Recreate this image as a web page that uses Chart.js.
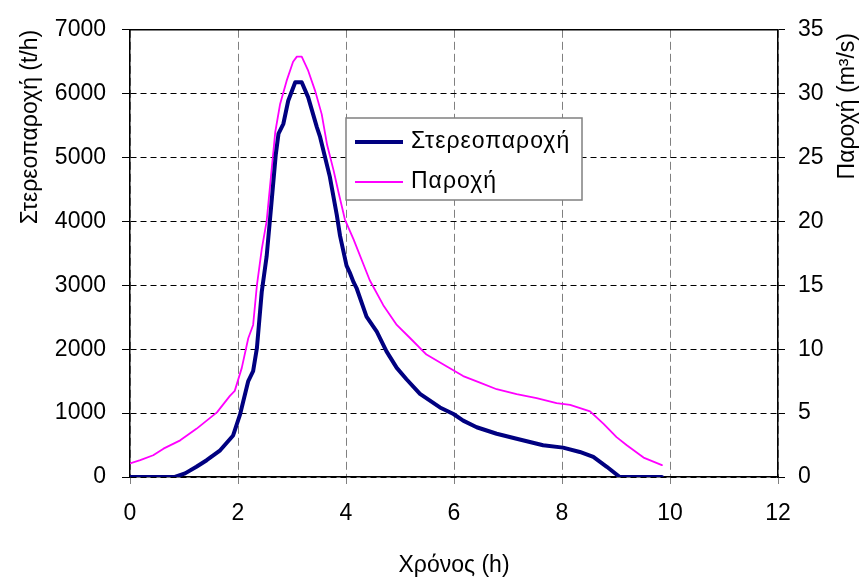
<!DOCTYPE html>
<html>
<head>
<meta charset="utf-8">
<script src="https://cdn.jsdelivr.net/npm/chart.js@4.4.0/dist/chart.umd.min.js"></script>
<style>
    body { margin: 0; background: #fff; }
    #wrap { width: 865px; height: 579px; }
</style>
</head>
<body>
<div id="wrap"><canvas id="canvasGrafico" width="865" height="579"></canvas></div>
<script>
// Στερεοπαροχή (t/h) - αριστερός άξονας
const sedTime = [0, 0.83, 1.02, 1.23, 1.42, 1.67, 1.91, 2.04, 2.19, 2.28, 2.35, 2.44, 2.53, 2.62, 2.70, 2.75, 2.84, 2.93, 3.06, 3.18, 3.30, 3.46, 3.52, 3.70, 3.83, 3.89, 4.01, 4.07, 4.14, 4.20, 4.38, 4.57, 4.75, 4.94, 5.12, 5.37, 5.74, 5.99, 6.17, 6.42, 6.79, 7.16, 7.65, 8.02, 8.33, 8.58, 8.83, 9.07, 9.85];
const sedRate = [0, 0, 57, 160, 263, 418, 650, 986, 1502, 1657, 2018, 2900, 3450, 4290, 5050, 5374, 5529, 5890, 6180, 6180, 5942, 5477, 5323, 4702, 4100, 3774, 3309, 3200, 3050, 2947, 2510, 2277, 1967, 1708, 1530, 1300, 1089, 986, 883, 779, 677, 599, 496, 460, 392, 314, 160, 0, 0];

// Παροχή (m3/s) - δεξιός άξονας
const flowTime = [0, 0.19, 0.43, 0.62, 0.93, 1.23, 1.61, 1.85, 1.94, 2.07, 2.19, 2.28, 2.35, 2.44, 2.53, 2.69, 2.78, 2.90, 3.02, 3.09, 3.18, 3.30, 3.43, 3.55, 3.65, 3.77, 3.86, 3.98, 4.14, 4.44, 4.69, 4.94, 5.19, 5.49, 5.86, 6.17, 6.48, 6.79, 7.16, 7.53, 7.90, 8.15, 8.52, 8.77, 9.01, 9.20, 9.51, 9.85];
const flowRate = [1.06, 1.32, 1.70, 2.22, 2.87, 3.77, 5.06, 6.35, 6.74, 8.54, 10.86, 11.9, 15.0, 17.83, 20.0, 27.0, 29.2, 31.0, 32.5, 32.9, 32.9, 31.8, 30.2, 28.4, 26.0, 24.0, 22.3, 20.15, 18.6, 15.4, 13.45, 11.9, 10.86, 9.58, 8.67, 7.9, 7.38, 6.87, 6.48, 6.17, 5.78, 5.65, 5.13, 4.16, 3.12, 2.48, 1.52, 0.93];

const xTicks = [0, 2, 4, 6, 8, 10, 12];
const yTicks = [0, 1000, 2000, 3000, 4000, 5000, 6000, 7000];
const y2Ticks = [0, 5, 10, 15, 20, 25, 30, 35];

const seriesNames = ["Στερεοπαροχή", "Παροχή"];
const xTitle = "Χρόνος (h)";
const yTitle = "Στερεοπαροχή (t/h)";
const y2Title = "Παροχή (m³/s)";

const FONT = '"Liberation Sans", Arial, sans-serif';

function toPoints(xs, ys) {
    return xs.map((x, i) => ({ x: x, y: ys[i] }));
}

function fixTicks(list) {
    return function (scale) {
        scale.ticks = list.map(v => ({ value: v }));
    };
}

function plain(v) {
    return String(v);
}

// bordo superiore, titolo asse destro e legenda dentro il grafico
const extraPlugin = {
    id: "extra",
    afterDraw(chart) {
        const ctx = chart.ctx;
        const a = chart.chartArea;
        ctx.save();
        ctx.strokeStyle = "#000";
        ctx.lineWidth = 1.5;
        ctx.beginPath();
        ctx.moveTo(a.left, a.top);
        ctx.lineTo(a.right, a.top);
        ctx.stroke();

        ctx.font = "23px " + FONT;
        ctx.fillStyle = "#000";
        ctx.save();
        ctx.translate(848, 33);
        ctx.rotate(-Math.PI / 2);
        ctx.textAlign = "right";
        ctx.textBaseline = "middle";
        ctx.fillText(y2Title, 0, 0);
        ctx.restore();

        // legenda
        ctx.fillStyle = "#fff";
        ctx.fillRect(346, 118, 236, 82);
        ctx.strokeStyle = "#808080";
        ctx.lineWidth = 1.5;
        ctx.strokeRect(346, 118, 236, 82);
        chart.data.datasets.forEach((ds, i) => {
            const y = 142 + i * 40;
            ctx.strokeStyle = ds.borderColor;
            ctx.lineWidth = ds.borderWidth;
            ctx.beginPath();
            ctx.moveTo(355, y);
            ctx.lineTo(403, y);
            ctx.stroke();
            ctx.fillStyle = "#000";
            ctx.textAlign = "left";
            ctx.textBaseline = "middle";
            ctx.letterSpacing = "1px";
            ctx.fillText(ds.label, 411, y);
        });
        ctx.restore();
    }
};

const chart = new Chart(document.getElementById("canvasGrafico"), {
    type: "line",
    data: {
        datasets: [{
            label: seriesNames[0],
            data: toPoints(sedTime, sedRate),
            borderColor: "#000080",
            borderWidth: 4,
            yAxisID: "y"
        }, {
            label: seriesNames[1],
            data: toPoints(flowTime, flowRate),
            borderColor: "#FF00FF",
            borderWidth: 1.8,
            yAxisID: "y2"
        }]
    },
    options: {
        responsive: false,
        animation: false,
        layout: { padding: { top: 25, left: 0, right: 0, bottom: 0 } },
        elements: {
            point: { radius: 0 },
            line: { tension: 0, borderJoinStyle: "round", borderCapStyle: "round" }
        },
        plugins: {
            legend: { display: false },
            tooltip: { enabled: false }
        },
        scales: {
            x: {
                type: "linear",
                min: 0,
                max: 12,
                afterBuildTicks: fixTicks(xTicks),
                afterFit: s => { s.height = 102; },
                grid: {
                    color: "#808080",
                    tickBorderDash: [],
                    tickColor: "#808080",
                    tickLength: 7
                },
                border: { display: true, color: "#000", width: 1.5, dash: [8, 4] },
                ticks: {
                    color: "#000",
                    padding: 16,
                    maxRotation: 0,
                    callback: plain,
                    font: { family: FONT, size: 23 }
                },
                title: {
                    display: true,
                    text: xTitle,
                    color: "#000",
                    padding: { top: 0, bottom: 0 },
                    font: { family: FONT, size: 23 }
                }
            },
            y: {
                position: "left",
                min: 0,
                max: 7000,
                afterBuildTicks: fixTicks(yTicks),
                afterFit: s => { s.width = 130; },
                grid: {
                    color: "#000",
                    tickBorderDash: [],
                    tickColor: "#000",
                    tickLength: 8
                },
                border: { display: true, color: "#000", width: 1.5, dash: [6, 4] },
                ticks: {
                    color: "#000",
                    padding: 16,
                    callback: plain,
                    font: { family: FONT, size: 23 }
                },
                title: {
                    display: true,
                    text: yTitle,
                    align: "end",
                    color: "#000",
                    padding: { top: 17, bottom: 0 },
                    font: { family: FONT, size: 23 }
                }
            },
            y2: {
                position: "right",
                min: 0,
                max: 35,
                afterBuildTicks: fixTicks(y2Ticks),
                afterFit: s => { s.width = 87; },
                grid: {
                    drawOnChartArea: false,
                    tickBorderDash: [],
                    tickColor: "#000",
                    tickLength: 7
                },
                border: { display: true, color: "#000", width: 1.5 },
                ticks: {
                    color: "#000",
                    padding: 13,
                    callback: plain,
                    font: { family: FONT, size: 23 }
                }
            }
        }
    },
    plugins: [extraPlugin]
});
</script>
</body>
</html>
